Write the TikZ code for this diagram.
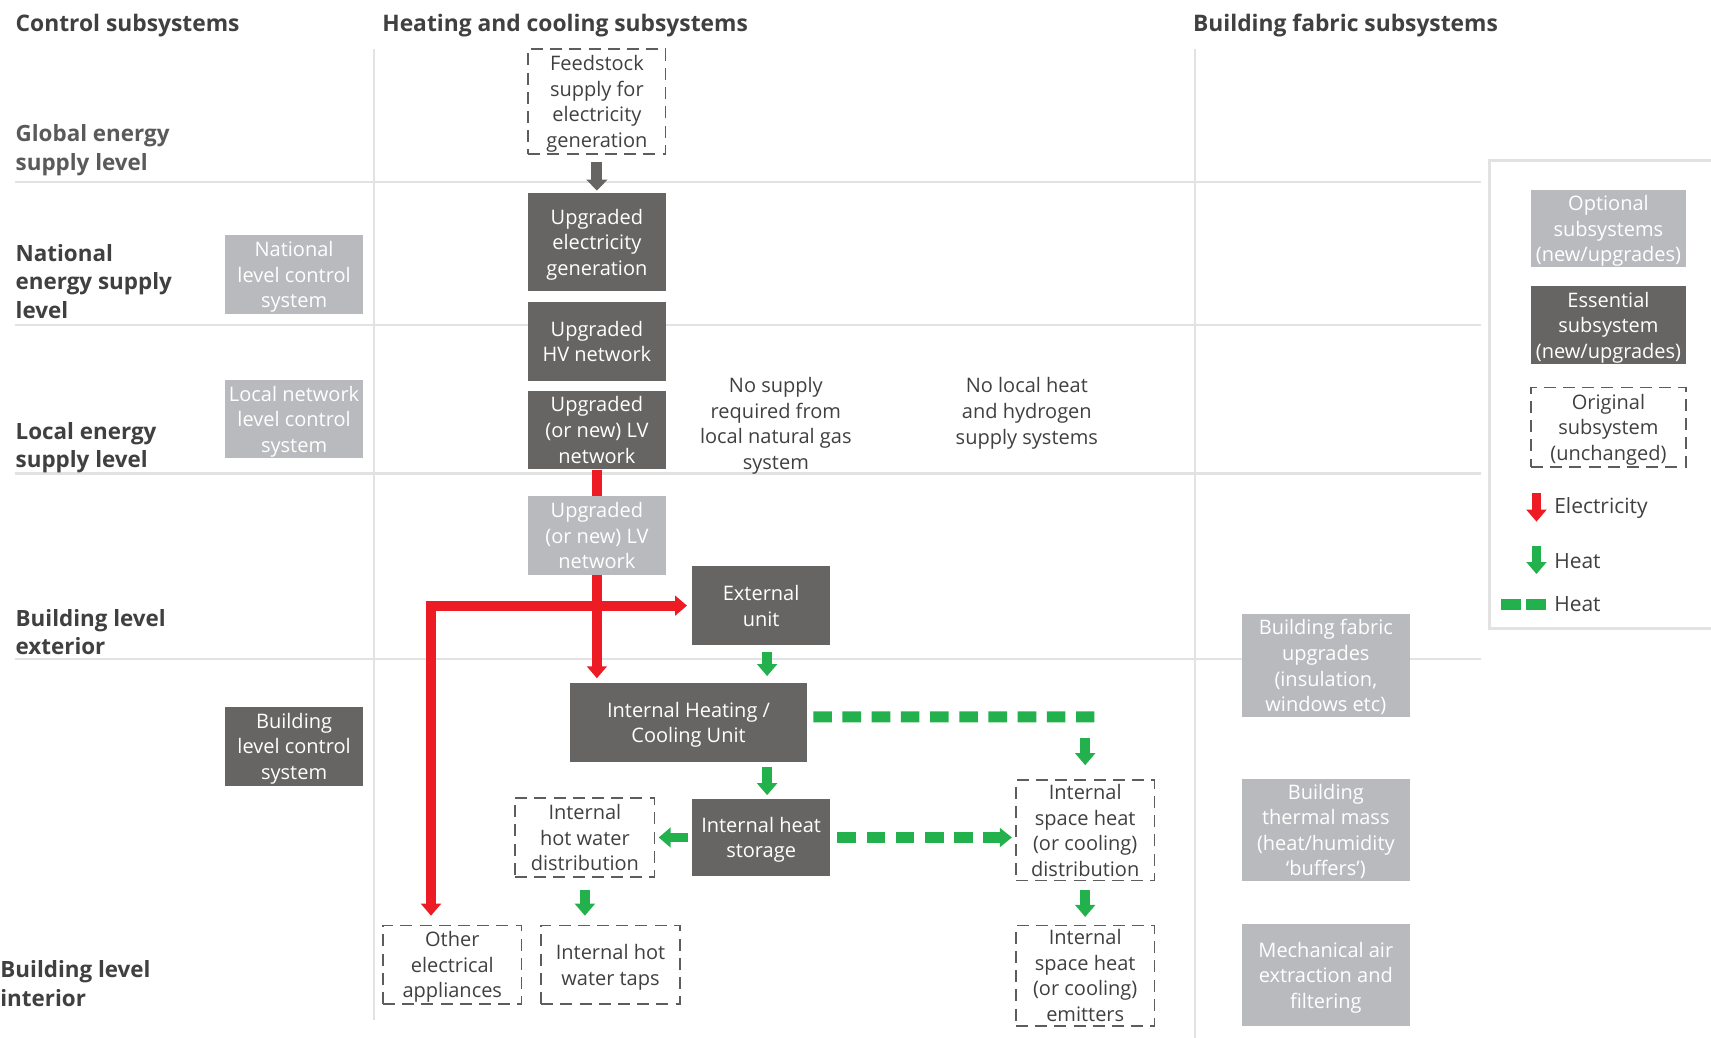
\documentclass[tikz,border=0pt]{standalone}
\usepackage{fontspec}
\setmainfont{Open Sans}
\usetikzlibrary{arrows.meta}
\definecolor{boxdark}{RGB}{103, 101, 99}
\definecolor{boxlight}{RGB}{185, 186, 190}
\definecolor{ink}{RGB}{64, 64, 64}
\definecolor{softink}{RGB}{90, 90, 90}
\definecolor{rule}{RGB}{226, 226, 226}
\definecolor{elec}{RGB}{237, 28, 36}
\definecolor{heat}{RGB}{35, 177, 77}
\newcommand{\boxfont}{\fontsize{10pt}{12.8pt}\selectfont}
\newcommand{\headfont}{\fontsize{11.4pt}{14.2pt}\selectfont\bfseries}
\newcommand{\rowfont}{\fontsize{11.2pt}{14.2pt}\selectfont\bfseries}

\begin{document}
\begin{tikzpicture}[x=0.5456pt, y=-0.5456pt, font=\boxfont,
  essential/.style={fill=boxdark, text=white, inner sep=0pt, align=center, text depth=-0.4pt,
    minimum width=69.3pt, minimum height=39.3pt},
  optional/.style={essential, fill=boxlight},
  original/.style={draw=ink!85, line width=0.8pt, dash pattern=on 6pt off 3.6pt,
    text=ink, inner sep=0pt, align=center, text depth=-0.4pt,
    minimum width=69.3pt, minimum height=39.3pt},
  heading/.style={font=\headfont, text=ink, anchor=west, align=left, inner sep=0pt},
  rowlabel/.style={heading, font=\rowfont},
  plain/.style={text=ink, align=center, inner sep=0pt, text depth=-0.4pt},
  legendtext/.style={font=\fontsize{10.5pt}{12.8pt}\selectfont, text=ink, anchor=west, inner sep=0pt},
  power/.style={draw=elec, line width=4.9pt, -{Triangle[width=9.8pt, length=6pt]}},
  warmth/.style={draw=heat, line width=4.9pt, -{Triangle[width=9.8pt, length=6pt]}},
  warmthdash/.style={draw=heat, line width=5.5pt, dash pattern=on 9.3pt off 5.3pt}]

  \useasboundingbox (0, 0) rectangle (1568, 951);

  \foreach \y in {167, 298, 434, 604} {
    \draw[rule, line width=1.1pt] (14, \y) -- (1357, \y);
  }
  \draw[rule, line width=1.1pt] (343, 45) -- (343, 935);
  \draw[rule, line width=1.1pt] (1095, 45) -- (1095, 951);

  \node[heading] (hcontrol) at (14, 23) {Control subsystems};
  \node[heading] (hheating) at (350, 23) {Heating and cooling subsystems};
  \node[heading] (hfabric) at (1093, 23) {Building fabric subsystems};

  \node[rowlabel, text=softink] (rglobal) at (14, 137.5) {Global energy\\supply level};
  \node[rowlabel] (rnational) at (14, 258) {National\\energy supply\\level};
  \node[rowlabel] (rlocal) at (14, 410.5) {Local energy\\supply level};
  \node[rowlabel] (rexterior) at (14, 579.5) {Building level\\exterior};
  \node[rowlabel] (rinterior) at (0, 901.5) {Building level\\interior};

  % control column
  \node[optional] (natctrl) at (269.5, 251.5) {National\\level control\\system};
  \node[optional] (locctrl) at (269.5, 384) {Local network\\level control\\system};
  \node[essential] (bldctrl) at (269.5, 684) {Building\\level control\\system};

  % heating and cooling column
  \node[original, minimum width=68.7pt, minimum height=52.4pt] (feed) at (547, 93)
    {Feedstock\\supply for\\electricity\\generation};
  \node[essential, minimum height=49.1pt] (elecgen) at (547, 222) {Upgraded\\electricity\\generation};
  \node[essential] (hvnet) at (547, 313) {Upgraded\\HV network};
  \node[essential] (lvnet) at (547, 394) {Upgraded\\(or new) LV\\network};
  \node[optional] (lvopt) at (547, 491) {Upgraded\\(or new) LV\\network};
  \node[essential] (extunit) at (697.5, 555) {External\\unit};
  \node[essential, minimum width=118.9pt] (ihcu) at (631, 662) {Internal Heating /\\Cooling Unit};
  \node[essential, minimum height=38.7pt] (storage) at (697.5, 767.5) {Internal heat\\storage};
  \node[original, minimum width=69.8pt] (hwdist) at (536, 767.5) {Internal\\hot water\\distribution};
  \node[original] (taps) at (559.5, 884) {Internal hot\\water taps};
  \node[original] (appl) at (414.5, 884) {Other\\electrical\\appliances};
  \node[original, minimum height=50.2pt] (shdist) at (994.5, 761) {Internal\\space heat\\(or cooling)\\distribution};
  \node[original, minimum height=50.2pt] (shemit) at (994.5, 894) {Internal\\space heat\\(or cooling)\\emitters};

  \node[plain] (nogas) at (711, 388) {No supply\\required from\\local natural gas\\system};
  \node[plain] (noheat) at (941, 376.5) {No local heat\\and hydrogen\\supply systems};

  % building fabric column
  \node[optional, minimum width=84pt, minimum height=51.3pt] (fabric) at (1215, 610)
    {Building fabric\\upgrades\\(insulation,\\windows etc)};
  \node[optional, minimum width=84pt, minimum height=50.7pt] (thermal) at (1215, 760.5)
    {Building\\thermal mass\\(heat/humidity\\‘buffers’)};
  \node[optional, minimum width=84pt, minimum height=50.7pt] (mech) at (1215, 893.5)
    {Mechanical air\\extraction and\\filtering};

  % flows
  \draw[boxdark, line width=5.5pt, -{Triangle[width=10.4pt, length=5.5pt]},
    shorten <=3.8pt, shorten >=1.1pt] (feed) -- (elecgen);
  \draw[power, -] (lvnet) -- (lvopt);
  \draw[power, shorten >=2.2pt] (lvopt) -- (lvopt |- ihcu.north);
  \coordinate (split) at (395, 555);
  \draw[power, {Triangle[width=9.8pt, length=6pt]}-{Triangle[width=9.8pt, length=6pt]},
    shorten <=2.2pt, shorten >=4.4pt] (extunit) -- (split) -- (split |- appl.north);

  \coordinate (hx) at (703, 0);
  \draw[warmth, shorten <=3.3pt, shorten >=3.3pt] (hx |- extunit.south) -- (hx |- ihcu.north);
  \draw[warmth, shorten <=2.7pt, shorten >=1.6pt] (hx |- ihcu.south) -- (hx |- storage.north);
  \draw[warmth, shorten <=1.6pt, shorten >=1.6pt] (storage) -- (hwdist);
  \draw[warmth, shorten <=6pt, shorten >=4.4pt] (hwdist) -- (hwdist |- taps.north);
  \draw[warmth, shorten <=4.4pt, shorten >=3.8pt] (shdist) -- (shemit);

  \coordinate (hend) at (1003, 657);
  \draw[warmthdash, shorten <=2.7pt] ([yshift=2.7pt]ihcu.east) -- (hend);
  \draw[warmth, shorten <=10.4pt, shorten >=7.1pt] (hend -| shdist.north) -- (shdist.north);
  \draw[warmthdash, -{Triangle[width=9.3pt, length=6pt]}, shorten <=3.3pt, shorten >=1.6pt]
    (storage) -- (storage -| shdist.west);

  % legend
  \draw[rule, line width=1.1pt] (1568, 147) -- (1365, 147) -- (1365, 576) -- (1568, 576);
  \node[optional, minimum width=77.5pt, minimum height=38.7pt] (legopt) at (1474, 209.5)
    {Optional\\subsystems\\(new/upgrades)};
  \node[essential, minimum width=77.5pt] (legess) at (1474, 298) {Essential\\subsystem\\(new/upgrades)};
  \node[original, minimum width=77.5pt, minimum height=39.8pt] (legorig) at (1474, 391.5)
    {Original\\subsystem\\(unchanged)};
  \node[legendtext] (legelec) at (1424, 466) {Electricity};
  \node[legendtext] (legheat) at (1424, 514) {Heat};
  \node[legendtext] (legdash) at (1424, 554) {Heat};
  \draw[power] ([xshift=-8.7pt, yshift=7.6pt]legelec.west) -- ++(0, 26);
  \draw[warmth] ([xshift=-8.7pt, yshift=7.6pt]legheat.west) -- ++(0, 26);
  \draw[warmthdash, dash pattern=on 9.8pt off 2.7pt] ([xshift=-26.2pt]legdash.west) -- ++(41, 0);
\end{tikzpicture}
\end{document}
